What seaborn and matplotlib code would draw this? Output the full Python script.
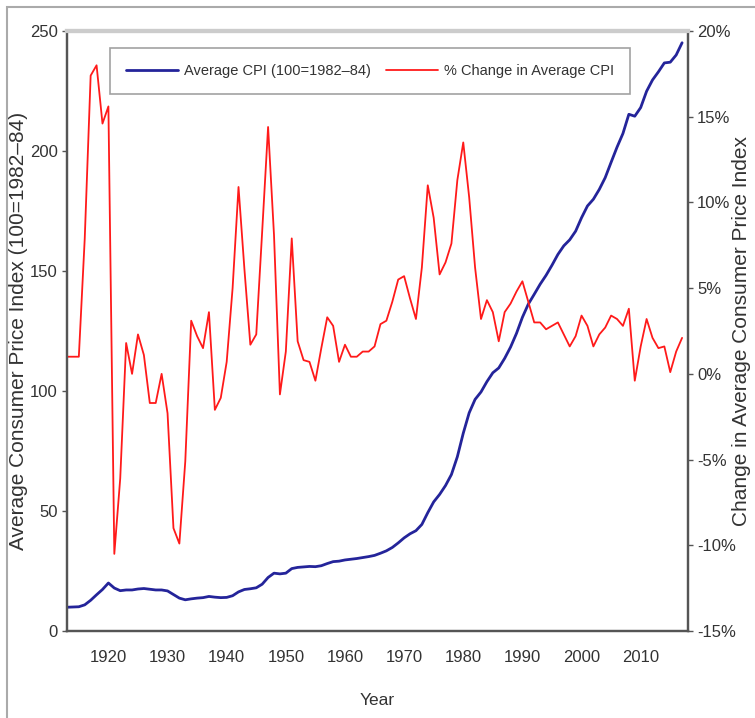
import numpy as np
import pandas as pd
import matplotlib.pyplot as plt
import matplotlib.ticker as mticker
from matplotlib.patches import Rectangle
import seaborn as sns

# ============================================
# Data: annual average CPI and % change
# ============================================
years = list(range(1913, 2018))

cpi = [9.9, 10.0, 10.1, 10.9, 12.8, 15.1, 17.3, 20.0, 17.9, 16.8,
       17.1, 17.1, 17.5, 17.7, 17.4, 17.1, 17.1, 16.7, 15.2, 13.7,
       13.0, 13.4, 13.7, 13.9, 14.4, 14.1, 13.9, 14.0, 14.7, 16.3,
       17.3, 17.6, 18.0, 19.5, 22.3, 24.1, 23.8, 24.1, 26.0, 26.5,
       26.7, 26.9, 26.8, 27.2, 28.1, 28.9, 29.1, 29.6, 29.9, 30.2,
       30.6, 31.0, 31.5, 32.4, 33.4, 34.8, 36.7, 38.8, 40.5, 41.8,
       44.4, 49.3, 53.8, 56.9, 60.6, 65.2, 72.6, 82.4, 90.9, 96.5,
       99.6, 103.9, 107.6, 109.6, 113.6, 118.3, 124.0, 130.7, 136.2, 140.3,
       144.5, 148.2, 152.4, 156.9, 160.5, 163.0, 166.6, 172.2, 177.1, 179.9,
       184.0, 188.9, 195.3, 201.6, 207.3, 215.3, 214.5, 218.1, 224.9, 229.6,
       233.0, 236.7, 237.0, 240.0, 245.1]

pct_change = [1.0, 1.0, 1.0, 7.9, 17.4, 18.0, 14.6, 15.6, -10.5, -6.1,
              1.8, 0.0, 2.3, 1.1, -1.7, -1.7, 0.0, -2.3, -9.0, -9.9,
              -5.1, 3.1, 2.2, 1.5, 3.6, -2.1, -1.4, 0.7, 5.0, 10.9,
              6.1, 1.7, 2.3, 8.3, 14.4, 8.1, -1.2, 1.3, 7.9, 1.9,
              0.8, 0.7, -0.4, 1.5, 3.3, 2.8, 0.7, 1.7, 1.0, 1.0,
              1.3, 1.3, 1.6, 2.9, 3.1, 4.2, 5.5, 5.7, 4.4, 3.2,
              6.2, 11.0, 9.1, 5.8, 6.5, 7.6, 11.3, 13.5, 10.3, 6.2,
              3.2, 4.3, 3.6, 1.9, 3.6, 4.1, 4.8, 5.4, 4.2, 3.0,
              3.0, 2.6, 2.8, 3.0, 2.3, 1.6, 2.2, 3.4, 2.8, 1.6,
              2.3, 2.7, 3.4, 3.2, 2.8, 3.8, -0.4, 1.6, 3.2, 2.1,
              1.5, 1.6, 0.1, 1.3, 2.1]

left_ticks = [0, 50, 100, 150, 200, 250]
right_ticks = [-15, -10, -5, 0, 5, 10, 15, 20]
x_ticks = [1920, 1930, 1940, 1950, 1960, 1970, 1980, 1990, 2000, 2010]

df = pd.DataFrame({'Year': years, 'CPI': cpi, 'Pct': pct_change})

# ============================================
# Style
# ============================================
sns.set_theme(style='white')
plt.rcParams['font.family'] = ['Liberation Sans', 'DejaVu Sans']

BLUE = '#24249a'
RED = '#ff1a1a'
SPINE = '#555555'
TXT = '#333333'

fig = plt.figure(figsize=(7.55, 7.18), dpi=100)
ax = fig.add_axes([67 / 755, 1 - 631 / 718, 621 / 755, 600 / 718])
ax2 = ax.twinx()

sns.lineplot(data=df, x='Year', y='CPI', ax=ax, color=BLUE, linewidth=2.0,
             label='Average CPI (100=1982\u201384)', legend=False)
sns.lineplot(data=df, x='Year', y='Pct', ax=ax2, color=RED, linewidth=1.3,
             label='% Change in Average CPI', legend=False)

ax.set_xlim(1913, 2018)
ax.set_ylim(0, 250)
ax2.set_ylim(-15, 20)
ax.set_xticks(x_ticks)
ax.set_yticks(left_ticks)
ax2.set_yticks(right_ticks)
ax2.yaxis.set_major_formatter(mticker.FuncFormatter(lambda v, p: f'{int(v)}%'))

for a in (ax, ax2):
    a.tick_params(axis='both', which='major', direction='out', width=1,
                  color=SPINE, labelcolor=TXT, labelsize=12)
    a.tick_params(axis='x', length=7, pad=7)
    a.tick_params(axis='y', length=3.5, pad=3)
    for side in ('left', 'right', 'bottom'):
        a.spines[side].set_color(SPINE)
        a.spines[side].set_linewidth(1.6)
    a.spines['top'].set_color('#cccccc')
    a.spines['top'].set_linewidth(3)

ax.set_xlabel('Year', fontsize=12.5, color=TXT, labelpad=20)
ax.set_ylabel('Average Consumer Price Index (100=1982\u201384)', fontsize=15, color=TXT)
ax2.set_ylabel('Change in Average Consumer Price Index', fontsize=15, color=TXT)
ax.yaxis.set_label_coords(-0.063, 0.5)
ax2.yaxis.set_label_coords(1.071, 0.5)

h1, l1 = ax.get_legend_handles_labels()
h2, l2 = ax2.get_legend_handles_labels()
leg = ax2.legend(h1 + h2, l1 + l2, loc='upper left', bbox_to_anchor=(0.069, 0.972),
                 ncol=2, fontsize=10.5, frameon=True, fancybox=False, handlelength=3.6,
                 handletextpad=0.4, columnspacing=1.0, borderpad=1.1, borderaxespad=0,
                 labelcolor=TXT)
leg.get_frame().set_edgecolor('#8a8a8a')
leg.get_frame().set_linewidth(1.2)

# outer border of the picture
fig.patches.append(Rectangle((7 / 755, -0.1), 1.2, 1.1 - 7 / 718, transform=fig.transFigure,
                             fill=False, edgecolor='#aaaaaa', linewidth=1.5))

fig.savefig('out.png', dpi=100)
print("saved")
